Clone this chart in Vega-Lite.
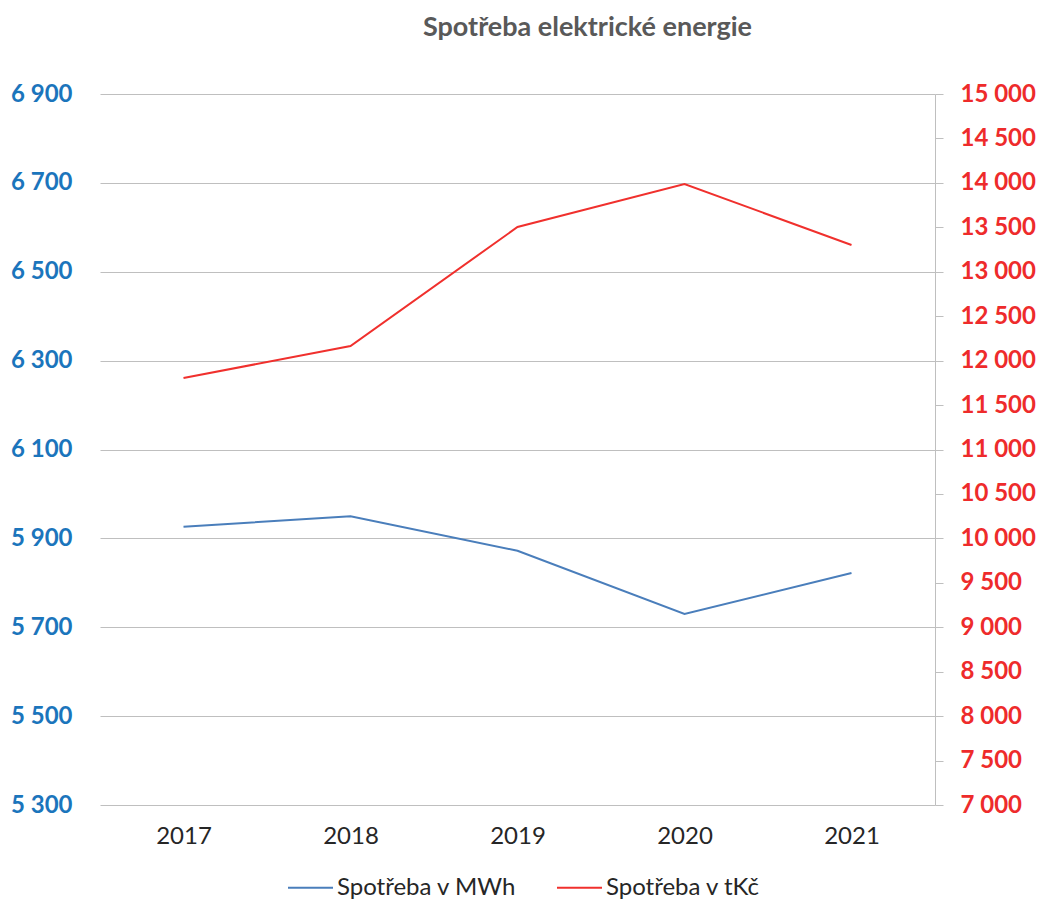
{
  "$schema": "https://vega.github.io/schema/vega-lite/v6.json",
  "width": 835,
  "height": 711,
  "autosize": {"type": "none"},
  "padding": {"left": 100, "top": 94, "right": 102, "bottom": 103},
  "background": "white",
  "title": {
    "text": "Spotřeba elektrické energie",
    "anchor": "middle",
    "frame": "group",
    "dx": 70,
    "offset": 40,
    "font": "Lato",
    "fontSize": 27,
    "fontWeight": "bold",
    "color": "#595959"
  },
  "config": {
    "view": {"stroke": null},
    "font": "Lato"
  },
  "data": {
    "values": [
      {"year": "2017", "series": "Spotřeba v MWh", "value": 5926},
      {"year": "2018", "series": "Spotřeba v MWh", "value": 5950},
      {"year": "2019", "series": "Spotřeba v MWh", "value": 5872},
      {"year": "2020", "series": "Spotřeba v MWh", "value": 5730},
      {"year": "2021", "series": "Spotřeba v MWh", "value": 5822},
      {"year": "2017", "series": "Spotřeba v tKč", "value": 11804},
      {"year": "2018", "series": "Spotřeba v tKč", "value": 12165},
      {"year": "2019", "series": "Spotřeba v tKč", "value": 13503},
      {"year": "2020", "series": "Spotřeba v tKč", "value": 13987},
      {"year": "2021", "series": "Spotřeba v tKč", "value": 13301}
    ]
  },
  "encoding": {
    "x": {
      "field": "year",
      "type": "ordinal",
      "scale": {"type": "point", "padding": 0.5},
      "axis": {
        "title": null,
        "labelAngle": 0,
        "domain": false,
        "ticks": false,
        "grid": false,
        "labelFont": "Lato",
        "labelFontSize": 24,
        "labelColor": "#262626",
        "labelPadding": 19
      }
    },
    "color": {
      "field": "series",
      "type": "nominal",
      "scale": {"domain": ["Spotřeba v MWh", "Spotřeba v tKč"], "range": ["#4A7EBB", "#F0302D"]},
      "legend": {
        "title": null,
        "orient": "none",
        "direction": "horizontal",
        "legendX": 187,
        "legendY": 770,
        "symbolType": "stroke",
        "symbolSize": 2025,
        "symbolStrokeWidth": 2,
        "labelFont": "Lato",
        "labelFontSize": 24,
        "labelLimit": 400,
        "labelColor": "#262626",
        "labelOffset": 3,
        "columnPadding": 36,
        "symbolOffset": 0
      }
    }
  },
  "layer": [
    {
      "transform": [{"filter": "datum.series == 'Spotřeba v MWh'"}],
      "mark": {"type": "line", "strokeWidth": 2},
      "encoding": {
        "y": {
          "field": "value",
          "type": "quantitative",
          "scale": {"domain": [5300, 6900], "nice": false, "zero": false},
          "axis": {
            "title": null,
            "orient": "left",
            "values": [5300, 5500, 5700, 5900, 6100, 6300, 6500, 6700, 6900],
            "labelExpr": "replace(format(datum.value, ','), ',', ' ')",
            "domain": false,
            "ticks": false,
            "grid": true,
            "gridColor": "#BFBFBF",
            "gridWidth": 1,
            "labelFont": "Lato",
            "labelFontSize": 24,
            "labelFontWeight": "bold",
            "labelColor": "#1B75BC",
            "labelPadding": 28
          }
        }
      }
    },
    {
      "transform": [{"filter": "datum.series == 'Spotřeba v tKč'"}],
      "mark": {"type": "line", "strokeWidth": 2},
      "encoding": {
        "y": {
          "field": "value",
          "type": "quantitative",
          "scale": {"domain": [7000, 15000], "nice": false, "zero": false},
          "axis": {
            "title": null,
            "orient": "right",
            "values": [7000, 7500, 8000, 8500, 9000, 9500, 10000, 10500, 11000, 11500, 12000, 12500, 13000, 13500, 14000, 14500, 15000],
            "labelExpr": "replace(format(datum.value, ','), ',', ' ')",
            "domain": true,
            "domainColor": "#BFBFBF",
            "domainWidth": 1,
            "ticks": true,
            "tickSize": 8,
            "tickColor": "#BFBFBF",
            "grid": false,
            "labelFont": "Lato",
            "labelFontSize": 24,
            "labelFontWeight": "bold",
            "labelColor": "#EE2B2B",
            "labelPadding": 17
          }
        }
      }
    }
  ],
  "resolve": {"scale": {"y": "independent"}}
}
